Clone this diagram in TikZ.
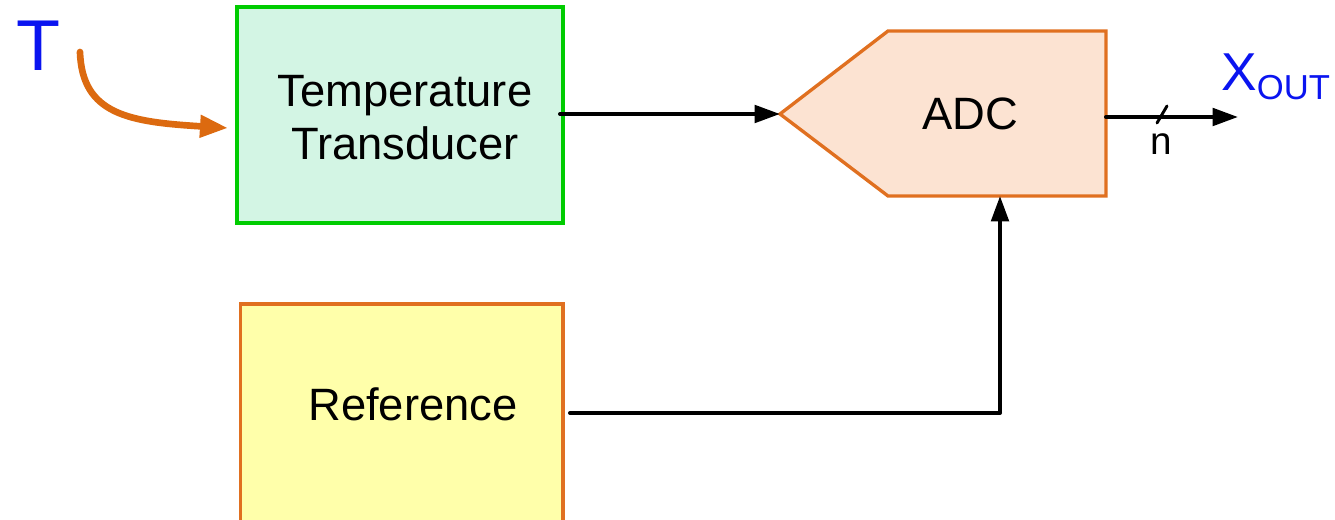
\documentclass[tikz,border=0pt]{standalone}
\usepackage{fontspec}
\setmainfont{Liberation Sans}
\usetikzlibrary{arrows.meta}
\definecolor{mintfill}{HTML}{D3F5E4}
\definecolor{boxgreen}{HTML}{00CC00}
\definecolor{paleyellow}{HTML}{FFFFAA}
\definecolor{rust}{HTML}{E07020}
\definecolor{peach}{HTML}{FCE3D2}
\definecolor{heat}{HTML}{DC6A10}
\definecolor{sigblue}{HTML}{0A14F0}
\tikzset{
  block/.style={draw, line width=2.5pt, inner sep=0pt},
  lbl/.style={inner sep=0pt, anchor=base, font=\fontsize{34}{40}\selectfont},
  wire/.style={line width=3pt, black, line cap=round},
  tip/.style={-{Triangle[length=19pt,width=13pt]}},
}
\begin{document}
\begin{tikzpicture}[x=0.75pt,y=-0.75pt]
\useasboundingbox (0,0) rectangle (1335,520);

% transducer and reference blocks
\node[block, draw=boxgreen, fill=mintfill, minimum width=244.5pt, minimum height=162pt]
  (trans) at (400,115) {};
\node[block, draw=rust, fill=paleyellow, minimum width=242pt, minimum height=174pt]
  (ref) at (401.5,420) {};

\node[lbl] (translbl) at (405,107) {Temperature};
\node[lbl] (translbl2) at (405,160) {Transducer};
\node[lbl] (reflbl) at (413,420) {Reference};

% converter outline
\draw[line width=2.5pt, draw=rust, fill=peach]
  (780,114) -- (888,31) -- (1106,31) -- (1106,196) -- (888,196) -- cycle;
\node[inner sep=0pt, font=\fontsize{34}{40}\selectfont] (adc) at (970,114) {ADC};
\coordinate (adcin) at (780,114);
\coordinate (adcbot) at (1000,196);
\coordinate (adcout) at (1106,117);
\coordinate (outend) at (1238,117);
\coordinate (refout) at (570,413);
\coordinate (corner) at (1000,413);
\coordinate (heatstart) at (80,52);
\coordinate (heatend) at (228,128);

% signal wires
\draw[wire, tip] (560,114) -- (adcin);
\draw[wire] (refout) -- (corner);
\draw[wire, tip, line cap=butt] (corner) -- (adcbot);
\draw[wire, tip] (adcout) -- (outend);
\draw[line width=2.2pt, line cap=round] (1157,123) -- (1167,106);
\node[inner sep=0pt, font=\fontsize{29}{34}\selectfont] (nbits) at (1161,144) {n};

% temperature input
\node[inner sep=0pt, anchor=base, text=sigblue, font=\fontsize{54}{60}\selectfont] (temp) at (38,71) {T};
\draw[line width=5pt, draw=heat, line cap=round, -{Triangle[length=21pt,width=16pt]}]
  (heatstart) .. controls (82,115) and (130,122) .. (heatend);

% digital output label
\node[inner sep=0pt, anchor=base west, text=sigblue] (xout) at (1221,91)
  {\fontsize{40}{44}\selectfont X\raisebox{-6.5pt}{\fontsize{26}{30}\selectfont OUT}};
\end{tikzpicture}
\end{document}
